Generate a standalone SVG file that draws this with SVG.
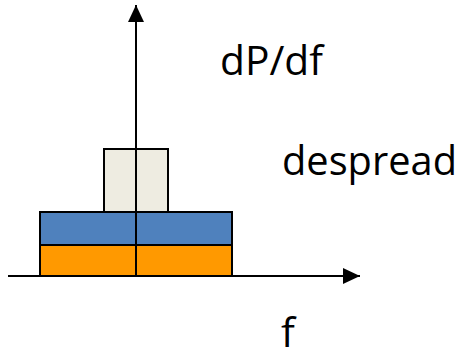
<svg xmlns="http://www.w3.org/2000/svg" width="462" height="353" viewBox="0 0 462 353">
<style>
.bar{stroke:#000;stroke-width:2}
.ax{stroke:#000;stroke-width:2;fill:none}
.lbl{font-family:"Open Sans","Liberation Sans",sans-serif;font-size:41px;fill:#000}
</style>
<defs>
<marker id="ah" markerUnits="userSpaceOnUse" markerWidth="17" markerHeight="16" refX="17" refY="8" orient="auto">
<path d="M0,0 L17,8 L0,16 Z" fill="#000"/>
</marker>
</defs>
<rect width="462" height="353" fill="#fff"/>
<g id="bar-top"><rect class="bar" x="104" y="149" width="64" height="63" fill="#EEECE1"/></g>
<g id="bar-blue"><rect class="bar" x="40" y="212" width="192" height="33" fill="#4F81BD"/></g>
<g id="bar-orange"><rect class="bar" x="40" y="245" width="192" height="31" fill="#FF9900"/></g>
<g id="connectors">
<line class="ax" x1="136" y1="276" x2="136" y2="5" marker-end="url(#ah)"/>
<line class="ax" x1="8" y1="276" x2="360" y2="276" marker-end="url(#ah)"/>
</g>
<g id="labels">
<text class="lbl" x="220" y="75" textLength="103" lengthAdjust="spacingAndGlyphs">dP/df</text>
<text class="lbl" x="282" y="175" textLength="175" lengthAdjust="spacingAndGlyphs">despread</text>
<text class="lbl" x="281" y="347">f</text>
</g>
</svg>
